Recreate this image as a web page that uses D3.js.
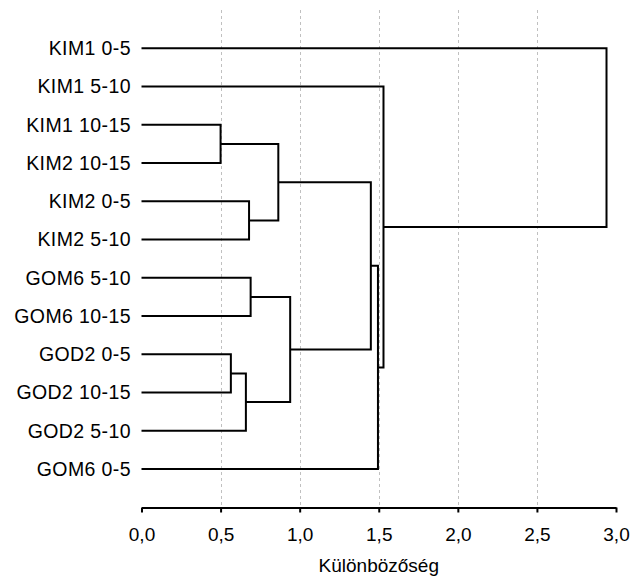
<!DOCTYPE html>
<html><head><meta charset="utf-8">
<script src="https://cdn.jsdelivr.net/npm/d3@7"></script>
<style>body{margin:0;background:#fff}svg{display:block}</style>
</head><body>
<svg id="c" width="632" height="576"></svg>
<script>
const leaves = ["KIM1 0-5","KIM1 5-10","KIM1 10-15","KIM2 10-15","KIM2 0-5","KIM2 5-10",
  "GOM6 5-10","GOM6 10-15","GOD2 0-5","GOD2 10-15","GOD2 5-10","GOM6 0-5"];
// merges: node ids 0..11 leaves, 12.. merges (in order)
const mergeLeft   = [2, 4, 12, 6, 8, 16, 15, 14, 19, 1, 0];
const mergeRight  = [3, 5, 13, 7, 9, 10, 17, 18, 11, 20, 21];
const mergeHeight = [0.50, 0.68, 0.865, 0.69, 0.565, 0.66, 0.94, 1.45, 1.495, 1.53, 2.94];
const xTicks = [0, 0.5, 1.0, 1.5, 2.0, 2.5, 3.0];
const xTitle = "Különbözőség";

const svg = d3.select("#c");
const x = d3.scaleLinear().domain([0, 3]).range([141.5, 616]);
const y = d3.scalePoint().domain(d3.range(leaves.length)).range([48.3, 469]);
const axisY = 507.5;

// grid
svg.append("g").selectAll("line").data(xTicks.filter(t => t > 0 && t < 3)).join("line")
  .attr("x1", d => Math.round(x(d)) + 0.5).attr("x2", d => Math.round(x(d)) + 0.5)
  .attr("y1", 10).attr("y2", axisY)
  .attr("stroke", "#c0c0c0").attr("stroke-width", 1).attr("stroke-dasharray", "3,3");

// node positions
const nodeX = leaves.map(() => 0);
const nodeY = leaves.map((d, i) => y(i));
mergeHeight.forEach((h, k) => {
  nodeX.push(h);
  nodeY.push((nodeY[mergeLeft[k]] + nodeY[mergeRight[k]]) / 2);
});

const g = svg.append("g");
mergeHeight.forEach((h, k) => {
  const a = mergeLeft[k], b = mergeRight[k];
  const p = d3.path();
  p.moveTo(x(nodeX[a]), nodeY[a]);
  p.lineTo(x(h), nodeY[a]);
  p.lineTo(x(h), nodeY[b]);
  p.lineTo(x(nodeX[b]), nodeY[b]);
  g.append("path").attr("d", p.toString()).attr("fill", "none")
    .attr("stroke", "#000").attr("stroke-width", 2).attr("stroke-linejoin", "miter");
});

// leaf labels
svg.append("g").selectAll("text").data(leaves).join("text")
  .attr("x", 131).attr("y", (d, i) => y(i)).attr("dy", "0.35em")
  .attr("text-anchor", "end")
  .attr("font-family", "Liberation Sans, Arial, sans-serif").attr("font-size", 19.5)
  .attr("letter-spacing", 0.4)
  .attr("fill", "#000").text(d => d);

// axis
const fmt = d => d3.format(".1f")(d).replace(".", ",");
const ax = svg.append("g").attr("transform", `translate(0,${axisY})`)
  .call(d3.axisBottom(x).tickValues(xTicks).tickFormat(fmt).tickSize(5).tickSizeOuter(0).tickPadding(15));
ax.select(".domain").attr("stroke", "#000").attr("stroke-width", 2);
ax.selectAll(".tick line").attr("stroke", "#000").attr("stroke-width", 2);
ax.selectAll(".tick text").attr("font-family", "Liberation Sans, Arial, sans-serif")
  .attr("font-size", 19).attr("fill", "#000");

svg.append("text").attr("x", x(1.5)).attr("y", 572).attr("text-anchor", "middle")
  .attr("font-family", "Liberation Sans, Arial, sans-serif").attr("font-size", 19)
  .attr("fill", "#000").text(xTitle);
</script>
</body></html>
